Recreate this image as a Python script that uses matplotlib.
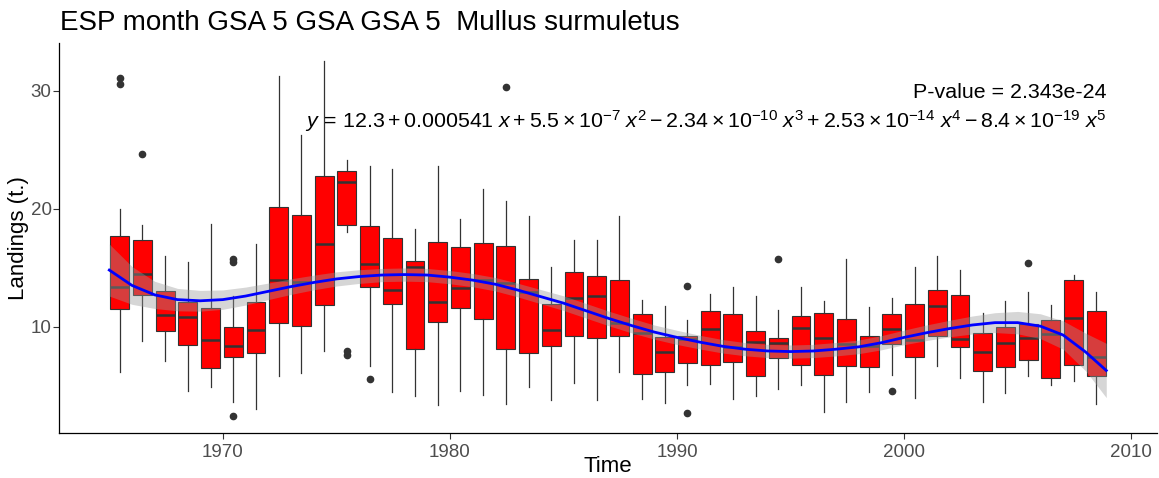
import numpy as np
import matplotlib
matplotlib.use('Agg')
from matplotlib import pyplot as plt

plt.rcParams['font.family'] = ['Liberation Sans', 'DejaVu Sans']
plt.rcParams['mathtext.fontset'] = 'custom'
plt.rcParams['mathtext.rm'] = 'Liberation Sans'
plt.rcParams['mathtext.it'] = 'Liberation Sans:italic'

#%% data
years = list(range(1965, 2009))
whisk_hi = [20.0, 18.64, 15.99, 15.48, 18.73, 12.57, 16.97, 31.2, 26.24, 32.5, 24.15,
            23.6, 23.39, 18.31, 23.59, 19.13, 21.67, 20.62, 19.41, 15.06, 17.31, 17.31,
            19.41, 12.29, 11.72, 10.54, 12.77, 13.39, 12.57, 11.44, 13.33, 12.15, 15.73,
            11.67, 12.43, 15.06, 16.02, 14.77, 11.16, 12.15, 12.94, 11.81, 14.37, 12.97]
q3 = [17.65, 17.37, 13.05, 12.06, 11.55, 10.0, 12.09, 20.14, 19.43, 22.8, 23.16,
      18.5, 17.48, 15.57, 17.17, 16.75, 17.09, 16.86, 14.04, 11.95, 14.6, 14.32,
      13.98, 11.1, 9.1, 9.26, 11.3, 11.12, 9.6, 9.06, 10.9, 11.2, 10.63,
      9.25, 11.08, 11.9, 13.09, 12.65, 9.45, 10.0, 10.2, 10.56, 13.99, 11.32]
median = [13.36, 14.46, 10.96, 10.79, 8.9, 8.39, 9.72, 13.98, 13.78, 17.03, 22.23,
          15.34, 13.14, 15.06, 12.06, 13.25, 13.98, 13.7, 12.95, 9.75, 12.4, 12.6,
          10.28, 9.48, 7.85, 9.0, 9.84, 8.3, 8.7, 8.6, 9.88, 9.09, 8.53,
          8.4, 9.8, 8.9, 11.8, 8.95, 7.84, 8.6, 9.02, 9.43, 10.76, 7.4]
q1 = [11.5, 12.66, 9.6, 8.45, 6.5, 7.4, 7.82, 10.31, 10.06, 11.81, 18.59,
      13.33, 11.92, 8.16, 10.37, 11.58, 10.65, 8.11, 7.78, 8.39, 9.18, 9.04,
      9.18, 5.99, 6.13, 6.92, 6.78, 6.98, 5.8, 7.33, 6.78, 5.93, 6.64,
      6.58, 8.55, 7.48, 9.18, 8.26, 6.23, 6.58, 7.2, 5.7, 6.78, 5.85]
whisk_lo = [6.13, 8.81, 7.06, 4.52, 4.88, 3.67, 3.05, 5.8, 6.07, 7.91, 17.99,
            6.69, 4.44, 4.1, 3.34, 4.6, 4.24, 3.45, 4.94, 3.76, 5.28, 3.81,
            6.13, 3.87, 3.53, 5.08, 5.14, 3.87, 4.1, 4.75, 5.08, 2.77, 3.67,
            4.44, 5.93, 3.95, 6.64, 5.65, 3.62, 4.38, 5.79, 5.08, 5.42, 3.47]
outliers = {1965: [31.08, 30.56], 1966: [24.66], 1970: [15.73, 15.48, 2.48],
            1975: [7.91, 7.63], 1976: [5.57], 1982: [30.28], 1990: [13.47, 2.74],
            1994: [15.73], 1999: [4.6], 2005: [15.36]}

# fitted curve and its confidence half-width
smooth_x = [1965.0, 1966, 1967, 1968, 1969, 1970, 1971, 1972, 1973, 1974, 1975, 1976,
            1977, 1978, 1979, 1980, 1981, 1982, 1983, 1984, 1985, 1986, 1987, 1988,
            1989, 1990, 1991, 1992, 1993, 1994, 1995, 1996, 1997, 1998, 1999, 2000,
            2001, 2002, 2003, 2004, 2005, 2006, 2007, 2008, 2008.9]
smooth_y = [14.8, 13.5, 12.7, 12.3, 12.2, 12.3, 12.6, 13.0, 13.4, 13.75, 14.05, 14.25,
            14.38, 14.42, 14.38, 14.2, 13.95, 13.6, 13.1, 12.55, 12.0, 11.35, 10.7, 10.1,
            9.55, 9.1, 8.7, 8.35, 8.1, 7.95, 7.9, 7.95, 8.1, 8.3, 8.65, 9.1,
            9.5, 9.85, 10.15, 10.35, 10.35, 10.05, 9.3, 7.85, 6.3]
smooth_se = [2.2, 1.6, 1.15, 0.95, 0.88, 0.82, 0.76, 0.7, 0.66, 0.62, 0.6, 0.58,
             0.56, 0.56, 0.56, 0.56, 0.56, 0.57, 0.58, 0.6, 0.62, 0.62, 0.62, 0.62,
             0.6, 0.6, 0.58, 0.57, 0.56, 0.56, 0.56, 0.56, 0.57, 0.58, 0.6, 0.62,
             0.66, 0.7, 0.76, 0.84, 0.95, 1.05, 1.2, 1.6, 2.3]

#%% figure
fig = plt.figure(figsize=(11.59, 4.78), dpi=100)
ax = fig.add_axes([0.0512, 0.0935, 0.9468, 0.8159])

stats = []
for i, yr in enumerate(years):
    stats.append(dict(med=median[i], q1=q1[i], q3=q3[i], whislo=whisk_lo[i],
                      whishi=whisk_hi[i], fliers=outliers.get(yr, [])))

ax.bxp(stats, positions=np.array(years) + 0.46, widths=0.83, patch_artist=True,
       showcaps=False,
       boxprops=dict(facecolor='red', edgecolor='#333333', linewidth=0.8),
       medianprops=dict(color='#333333', linewidth=1.8),
       whiskerprops=dict(color='#333333', linewidth=0.9),
       flierprops=dict(marker='o', markerfacecolor='#333333', markeredgecolor='#333333',
                       markersize=4.5))

sx = np.array(smooth_x)
sy = np.array(smooth_y)
se = np.array(smooth_se)
ax.fill_between(sx, sy - se, sy + se, color='#999999', alpha=0.4, linewidth=0, zorder=3)
ax.plot(sx, sy, color='blue', linewidth=2, zorder=4)

ax.set_xlim(1962.8, 2011.12)
ax.set_ylim(0.98, 34.0)
ax.set_xticks([1970, 1980, 1990, 2000, 2010])
ax.set_xticklabels(['1970', '1980', '1990', '2000', '2010'])
ax.set_yticks([10, 20, 30])
ax.set_yticklabels(['10', '20', '30'])
ax.tick_params(colors='#333333', labelcolor='#4D4D4D', labelsize=13.5, length=4, width=0.8)
ax.tick_params(axis='y', pad=1.5)

for s in ['top', 'right']:
    ax.spines[s].set_visible(False)
for s in ['left', 'bottom']:
    ax.spines[s].set_color('black')
    ax.spines[s].set_linewidth(0.9)

ax.set_xlabel('Time', fontsize=16, va='center')
ax.set_ylabel('Landings (t.)', fontsize=16, va='center')
ax.xaxis.set_label_coords(0.5, -0.084)
ax.yaxis.set_label_coords(-0.037, 0.5)
fig.text(0.052, 0.952, 'ESP month GSA 5 GSA GSA 5  Mullus surmuletus', fontsize=20,
         ha='left', va='center')

ax.text(2008.9, 29.8, 'P-value = 2.343e-24', ha='right', va='center', fontsize=15.4)
eq = (r'$y\,=\,12.3+0.000541\ x+5.5\times10^{-7}\ x^{2}-2.34\times10^{-10}\ x^{3}'
      r'+2.53\times10^{-14}\ x^{4}-8.4\times10^{-19}\ x^{5}$')
ax.text(2008.9, 27.4, eq, ha='right', va='center', fontsize=15.4)

plt.savefig('out.png', dpi=100)
